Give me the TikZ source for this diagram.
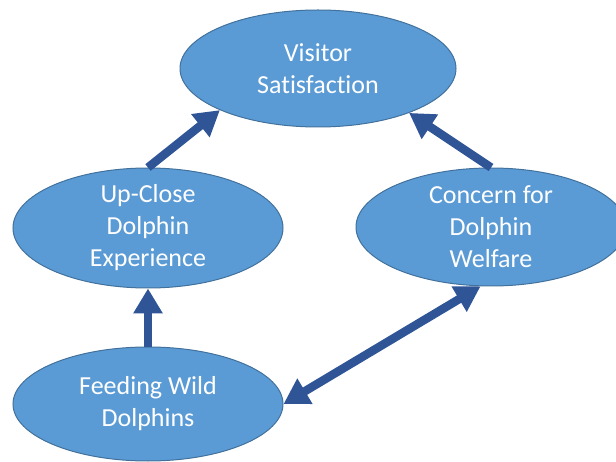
\documentclass[tikz,border=0pt]{standalone}
\usepackage{fontspec}
\setmainfont{Carlito}[Ligatures={NoCommon}]
\usetikzlibrary{shapes.geometric,arrows.meta}
\definecolor{nodefill}{HTML}{5B9BD5}
\definecolor{nodeline}{HTML}{41719C}
\definecolor{arrowblue}{HTML}{2F5597}
\begin{document}
\begin{tikzpicture}[x=1pt,y=1pt,
  blob/.style={ellipse, draw=nodeline, line width=1pt, fill=nodefill, inner sep=0pt},
  lbl/.style={text=white, align=center, inner sep=0pt, font=\fontsize{26}{32}\selectfont},
  bigtip/.tip={Triangle[length=25pt,width=28pt]},
  link/.style={draw=arrowblue, line width=8.5pt, -bigtip},
  biglink/.style={draw=arrowblue, line width=8.5pt, bigtip-bigtip},
]
\useasboundingbox (0,0) rectangle (616,461);
\node[blob, minimum width=276pt, minimum height=117pt] (vis) at (318,392.5) {};
\node[blob, minimum width=270pt, minimum height=120pt] (up) at (148,233) {};
\node[blob, minimum width=270pt, minimum height=118pt] (con) at (491,234) {};
\node[blob, minimum width=270pt, minimum height=114pt] (fw) at (148,57) {};
\node[lbl] (vist) at (vis) {Visitor\\Satisfaction};
\node[lbl] (upt) at (up) {Up-Close\\Dolphin\\Experience};
\node[lbl] (cont) at (con) {Concern for\\Dolphin\\Welfare};
\node[lbl] (fwt) at (fw) {Feeding Wild\\Dolphins};
\draw[link] (up.north) -- (vis.203);
\draw[link] (con.north) -- (vis.334);
\draw[link] (fw.north) -- (up.south);
\draw[biglink] (fw.east) -- (con.260);
\end{tikzpicture}
\end{document}
